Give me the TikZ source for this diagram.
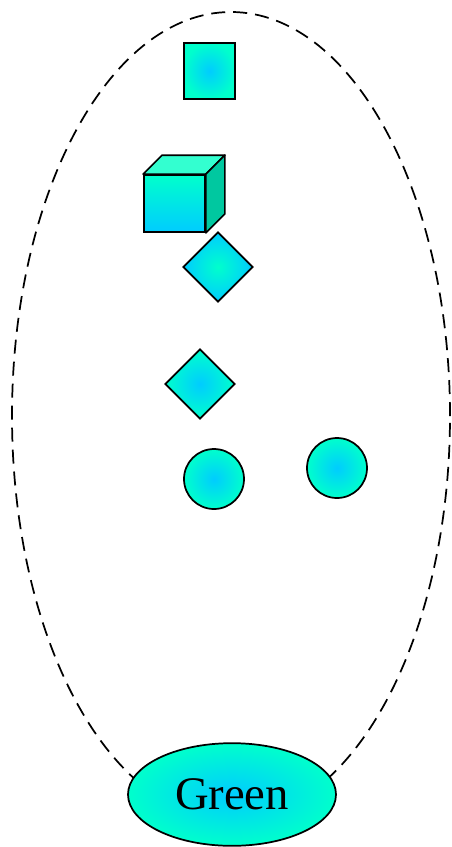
\documentclass[tikz,border=0pt]{standalone}
\usepackage{fontspec}
\setmainfont{Liberation Serif}
\usepackage{xcolor}
\usetikzlibrary{shapes.geometric,calc}
\definecolor{skyc}{RGB}{0,204,255}
\definecolor{turq}{RGB}{0,255,204}
\definecolor{turqtop}{RGB}{51,255,208}
\definecolor{turqside}{RGB}{0,200,160}

\begin{document}
\begin{tikzpicture}[x=0.75pt,y=-0.75pt,line width=1.3pt]
  \tikzstyle{glow}=[draw,inner sep=0pt,inner color=skyc,outer color=turq]
  \tikzstyle{glowinv}=[draw,inner sep=0pt,inner color=turq,outer color=skyc]
  \tikzstyle{gem}=[diamond,minimum width=52.5pt,minimum height=52.5pt]
  \tikzstyle{dot}=[circle,minimum size=45pt]
  \useasboundingbox (0,0) rectangle (452,847);
  % cluster outline
  \node[draw,dash pattern=on 10.5pt off 6pt,ellipse,minimum width=328.5pt,minimum height=606pt] (cluster) at (231,416) {};
  % members
  \node[glow,rectangle,minimum width=38.25pt,minimum height=42pt] (sq) at (209.5,71) {};
  \node[draw,inner sep=0pt,minimum width=45.75pt,minimum height=42.75pt,top color=turq,bottom color=skyc] (box) at (174.5,203.5) {};
  \draw[fill=turqtop,line join=round] (box.north west) -- ++(14.25pt,14.25pt) -- ($(box.north east)+(14.25pt,14.25pt)$) -- (box.north east) -- cycle;
  \draw[fill=turqside,line join=round] (box.north east) -- ++(14.25pt,14.25pt) -- ($(box.south east)+(14.25pt,14.25pt)$) -- (box.south east) -- cycle;
  \node[glowinv,gem] (gemA) at (218,267) {};
  \node[glow,gem] (gemB) at (200,384) {};
  \node[glow,dot] (dotA) at (214,479) {};
  \node[glow,dot] (dotB) at (337,468) {};
  % label
  \node[glow,ellipse,minimum width=156pt,minimum height=77pt,font=\fontsize{35}{40}\selectfont] (green) at (232,794.5) {Green};
\end{tikzpicture}
\end{document}
